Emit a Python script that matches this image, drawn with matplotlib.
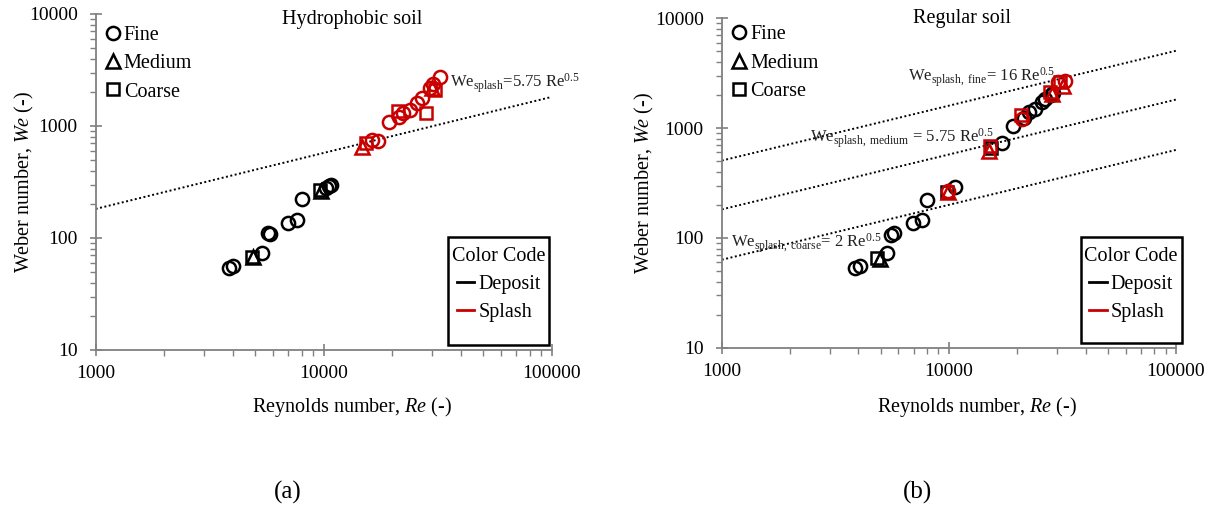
import numpy as np
import matplotlib.pyplot as plt
from matplotlib.lines import Line2D
from matplotlib.patches import Rectangle
from matplotlib.ticker import FixedLocator, LogLocator, NullFormatter

plt.rcParams['font.family'] = ['Liberation Serif', 'DejaVu Serif']
plt.rcParams['mathtext.fontset'] = 'custom'
plt.rcParams['mathtext.rm'] = 'Liberation Serif'
plt.rcParams['mathtext.it'] = 'Liberation Serif:italic'

RED = '#C80000'

# Hydrophobic soil: (Re, We) per grain size, deposit vs splash
hyd_fine_dep_re = [3850, 4020, 5350, 5710, 5800, 6950, 7620, 8050, 10230, 10500, 10770]
hyd_fine_dep_we = [53.6, 56, 73, 111, 108, 135, 145, 222, 278, 290, 296]
hyd_med_dep_re = [4900, 9700]
hyd_med_dep_we = [68, 262]
hyd_coa_dep_re = [4830, 9600]
hyd_coa_dep_we = [67, 268]
hyd_fine_spl_re = [16240, 17370, 19330, 21460, 22350, 23920, 25570, 26900, 29250, 30250, 32360]
hyd_fine_spl_we = [750, 735, 1079, 1211, 1315, 1389, 1615, 1767, 2172, 2371, 2757]
hyd_med_spl_re = [14680, 30000]
hyd_med_spl_we = [650, 2200]
hyd_coa_spl_re = [15340, 21250, 28100, 30750]
hyd_coa_spl_we = [700, 1371, 1315, 2094]

# Regular soil
reg_fine_dep_re = [3850, 4050, 5330, 5570, 5740, 6930, 7600, 8040, 10590, 17100,
                   19230, 21480, 22650, 23930, 25700, 26400, 28200, 28700]
reg_fine_dep_we = [53, 55, 73, 106, 110, 136, 146, 221, 289, 736,
                   1045, 1228, 1410, 1483, 1740, 1830, 2000, 2100]
reg_med_dep_re = [4990]
reg_med_dep_we = [64]
reg_coa_dep_re = [4820, 9800, 15300]
reg_coa_dep_we = [65, 264, 660]
reg_fine_spl_re = [9900, 21000, 30300, 32600]
reg_fine_spl_we = [270, 1200, 2650, 2710]
reg_med_spl_re = [9900, 15100, 28500, 31800]
reg_med_spl_we = [262, 620, 2050, 2420]
reg_coa_spl_re = [15200, 20700, 28000, 31000]
reg_coa_spl_we = [680, 1316, 2150, 2650]

# splash threshold lines: We = c * Re^0.5
hyd_coef = [5.75]
reg_coef = [16, 5.75, 2]

MARKER_SIZE = {'o': 9.5, '^': 10.5, 's': 8.8}


def draw_points(ax, re, we, marker, color):
    ax.plot(re, we, ls='none', marker=marker, ms=MARKER_SIZE[marker], mfc='none',
            mec=color, mew=1.8, zorder=3)


def style_axes(ax):
    ax.set_xscale('log')
    ax.set_yscale('log')
    ax.set_xlim(1000, 100000)
    ax.set_ylim(10, 10000)
    for s in ['top', 'right']:
        ax.spines[s].set_visible(False)
    for s in ['left', 'bottom']:
        ax.spines[s].set_color('#808080')
        ax.spines[s].set_linewidth(1.3)
    ax.xaxis.set_major_locator(FixedLocator([1000, 10000, 100000]))
    ax.yaxis.set_major_locator(FixedLocator([10, 100, 1000, 10000]))
    ax.set_xticklabels(['1000', '10000', '100000'])
    ax.set_yticklabels(['10', '100', '1000', '10000'])
    ax.xaxis.set_minor_locator(LogLocator(base=10, subs=np.arange(2, 10)))
    ax.yaxis.set_minor_locator(LogLocator(base=10, subs=np.arange(2, 10)))
    ax.xaxis.set_minor_formatter(NullFormatter())
    ax.yaxis.set_minor_formatter(NullFormatter())
    ax.tick_params(which='major', direction='inout', length=8, width=1.2,
                   color='#808080', labelsize=14)
    ax.tick_params(which='minor', direction='out', length=4, width=1.0,
                   color='#808080')
    ax.tick_params(axis='x', which='major', pad=7)
    ax.tick_params(axis='y', which='major', pad=9)


def legends(ax, shape_top, box):
    shapes = [Line2D([], [], ls='none', marker=m, ms=MARKER_SIZE[m], mfc='none',
                     mec='k', mew=1.8) for m in ['o', '^', 's']]
    leg1 = ax.legend(shapes, ['Fine', 'Medium', 'Coarse'], loc='upper left',
                     bbox_to_anchor=(0, shape_top), frameon=False, fontsize=14.5,
                     handlelength=0.8, handletextpad=0.15, borderpad=0,
                     borderaxespad=0.45, labelspacing=0.45)
    ax.add_artist(leg1)

    x0, y0, x1, y1 = box
    ax.add_patch(Rectangle((x0, y0), x1 - x0, y1 - y0, transform=ax.transAxes,
                           facecolor='white', edgecolor='black', lw=1.8,
                           clip_on=False, zorder=4))
    codes = [Line2D([], [], color='k', lw=2), Line2D([], [], color=RED, lw=2)]
    leg2 = ax.legend(codes, ['Deposit', 'Splash'], title='Color Code',
                     loc='upper center', bbox_to_anchor=((x0 + x1) / 2, y1),
                     borderaxespad=0, borderpad=0.5, frameon=False,
                     fontsize=14.5, title_fontsize=14.5, handlelength=0.85,
                     handletextpad=0.2, labelspacing=0.45)
    leg2.set_zorder(5)


fig = plt.figure(figsize=(12.11, 5.12), dpi=100)
ax1 = fig.add_axes([95.7 / 1211, 1 - 350 / 512, 456 / 1211, 336 / 512])
ax2 = fig.add_axes([721.8 / 1211, 1 - 347.7 / 512, 454.1 / 1211, 329.4 / 512])

re_line = np.array([1000, 100000])
eq_style = dict(fontsize=12, va='center', ha='left', color='#222222', clip_on=False)

# (a) hydrophobic soil
style_axes(ax1)
for c in hyd_coef:
    ax1.plot(re_line, c * re_line ** 0.5, color='k', lw=1.4, ls=(0, (1, 1.3)), zorder=2)
draw_points(ax1, hyd_fine_dep_re, hyd_fine_dep_we, 'o', 'k')
draw_points(ax1, hyd_med_dep_re, hyd_med_dep_we, '^', 'k')
draw_points(ax1, hyd_coa_dep_re, hyd_coa_dep_we, 's', 'k')
draw_points(ax1, hyd_fine_spl_re, hyd_fine_spl_we, 'o', RED)
draw_points(ax1, hyd_med_spl_re, hyd_med_spl_we, '^', RED)
draw_points(ax1, hyd_coa_spl_re, hyd_coa_spl_we, 's', RED)
ax1.text(35800, 2420, r'We$_{\mathrm{splash}}$=5.75 Re$^{0.5}$', **eq_style)
ax1.text(0.562, 0.985, 'Hydrophobic soil', transform=ax1.transAxes,
         ha='center', va='center', fontsize=14.5)
ax1.set_xlabel(r'Reynolds number, $\mathit{Re}$ (-)', fontsize=14.5)
ax1.set_ylabel(r'Weber number, $\mathit{We}$ (-)', fontsize=14.5)
ax1.xaxis.set_label_coords(0.563, -0.134)
ax1.yaxis.set_label_coords(-0.132, 0.5)
legends(ax1, 0.991, (0.773, 0.015, 0.995, 0.337))

# (b) regular soil
style_axes(ax2)
for c in reg_coef:
    ax2.plot(re_line, c * re_line ** 0.5, color='k', lw=1.4, ls=(0, (1, 1.3)), zorder=2)
draw_points(ax2, reg_fine_dep_re, reg_fine_dep_we, 'o', 'k')
draw_points(ax2, reg_med_dep_re, reg_med_dep_we, '^', 'k')
draw_points(ax2, reg_coa_dep_re, reg_coa_dep_we, 's', 'k')
draw_points(ax2, reg_fine_spl_re, reg_fine_spl_we, 'o', RED)
draw_points(ax2, reg_med_spl_re, reg_med_spl_we, '^', RED)
draw_points(ax2, reg_coa_spl_re, reg_coa_spl_we, 's', RED)
ax2.text(6640, 2900, r'We$_{\mathrm{splash,\ fine}}$= 16 Re$^{0.5}$', **eq_style)
ax2.text(2457, 807, r'We$_{\mathrm{splash,\ medium}}$ = 5.75 Re$^{0.5}$', **eq_style)
ax2.text(1103, 89, r'We$_{\mathrm{splash,\ coarse}}$= 2 Re$^{0.5}$', **eq_style)
ax2.text(0.529, 0.998, 'Regular soil', transform=ax2.transAxes,
         ha='center', va='center', fontsize=14.5)
ax2.set_xlabel(r'Reynolds number, $\mathit{Re}$ (-)', fontsize=14.5)
ax2.set_ylabel(r'Weber number, $\mathit{We}$ (-)', fontsize=14.5)
ax2.xaxis.set_label_coords(0.563, -0.144)
ax2.yaxis.set_label_coords(-0.145, 0.5)
legends(ax2, 1.006, (0.79, 0.013, 1.013, 0.337))

fig.text(288 / 1211, 1 - 492 / 512, '(a)', fontsize=18, ha='center', va='center')
fig.text(917 / 1211, 1 - 492 / 512, '(b)', fontsize=18, ha='center', va='center')

fig.savefig('out.png', dpi=100)
